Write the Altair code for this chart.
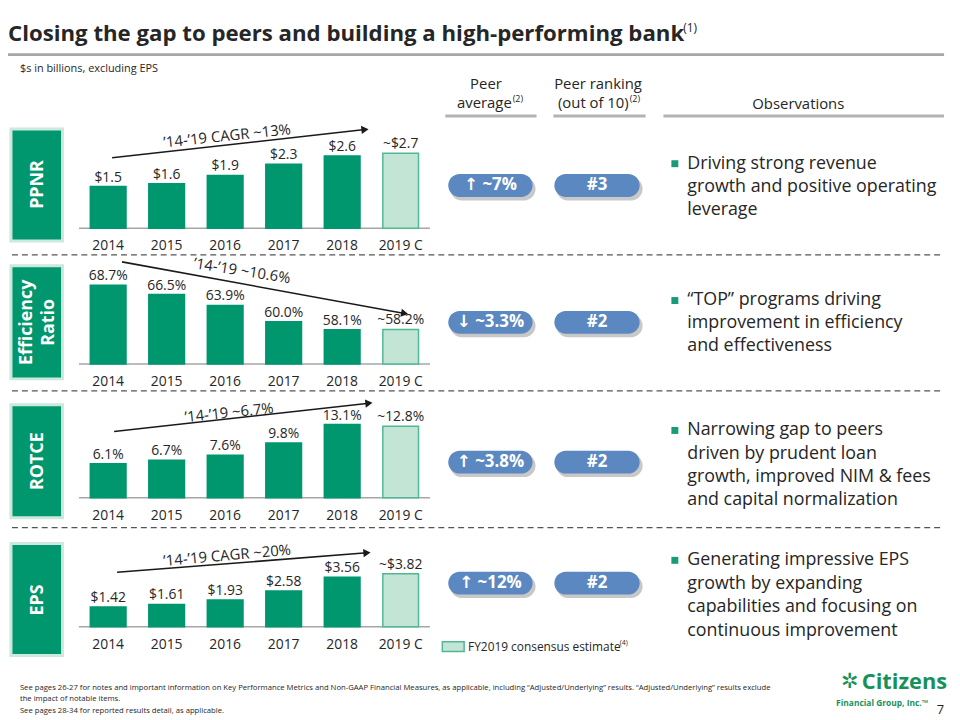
import altair as alt
import pandas as pd

# ---------------- data ----------------
years = ["2014", "2015", "2016", "2017", "2018", "2019 C"]
kinds = ["Actual", "Actual", "Actual", "Actual", "Actual", "Consensus"]

ppnr = [1.5, 1.6, 1.9, 2.3, 2.6, 2.7]
ppnr_labels = ["$1.5", "$1.6", "$1.9", "$2.3", "$2.6", "~$2.7"]
eff = [68.7, 66.5, 63.9, 60.0, 58.1, 58.2]
eff_labels = ["68.7%", "66.5%", "63.9%", "60.0%", "58.1%", "~58.2%"]
rotce = [6.1, 6.7, 7.6, 9.8, 13.1, 12.8]
rotce_labels = ["6.1%", "6.7%", "7.6%", "9.8%", "13.1%", "~12.8%"]
eps = [1.42, 1.61, 1.93, 2.58, 3.56, 3.82]
eps_labels = ["$1.42", "$1.61", "$1.93", "$2.58", "$3.56", "~$3.82"]

row_names = ["PPNR", "Efficiency Ratio", "ROTCE", "EPS"]
trend_texts = ["\u201914-\u201919 CAGR ~13%", "\u201914-\u201919 ~10.6%",
               "\u201914-\u201919 ~6.7%", "\u201914-\u201919 CAGR ~20%"]
peer_avg = ["\u2191 ~7%", "\u2193 ~3.3%", "\u2191 ~3.8%", "\u2191 ~12%"]
peer_rank = ["#3", "#2", "#2", "#2"]
observations = [
    ["Driving strong revenue", "growth and positive operating", "leverage"],
    ["\u201cTOP\u201d programs driving", "improvement in efficiency", "and effectiveness"],
    ["Narrowing gap to peers", "driven by prudent loan", "growth, improved NIM & fees",
     "and capital normalization"],
    ["Generating impressive EPS", "growth by expanding", "capabilities and focusing on",
     "continuous improvement"],
]
footnotes = [
    "See pages 26-27 for notes and important information on Key Performance Metrics and Non-GAAP Financial Measures, as applicable, including \u201cAdjusted/Underlying\u201d results. \u201cAdjusted/Underlying\u201d results exclude",
    "the impact of notable items.",
    "See pages 28-34 for reported results detail, as applicable.",
]

# ---------------- styles / layout ----------------
FONT = "Open Sans"
DARK = "#262626"
GREEN = "#00966e"
LIGHT = "#c3e5d6"
LIGHT_STROKE = "#52b893"
BLUE = "#5b88c1"
LOGO = "#17915b"

M = 8  # page margin
W, H = 952, 712


def PX(f="x"):
    return alt.X(f + ":Q", scale=alt.Scale(domain=[M, M + W], range=[0, W]), axis=None)


def PY(f="y"):
    return alt.Y(f + ":Q", scale=alt.Scale(domain=[M, M + H], range=[0, H]), axis=None)


def text_layer(items, weight="normal", align="left", baseline="middle", font=FONT):
    df = pd.DataFrame(items)
    if "angle" not in df:
        df["angle"] = 0
    if "color" not in df:
        df["color"] = DARK
    return alt.Chart(df).mark_text(
        font=font, fontWeight=weight, align=align, baseline=baseline
    ).encode(
        x=PX(), y=PY(), text="text:N",
        size=alt.Size("size:Q", scale=None),
        color=alt.Color("color:N", scale=None),
        angle=alt.Angle("angle:Q", scale=None),
    )


def rule_layer(items, color, width, dash=None):
    props = dict(color=color, strokeWidth=width)
    if dash:
        props["strokeDash"] = dash
    return alt.Chart(pd.DataFrame(items)).mark_rule(**props).encode(
        x=PX(), y=PY(), x2="x2:Q", y2="y2:Q")


def rect_layer(items, **props):
    return alt.Chart(pd.DataFrame(items)).mark_rect(**props).encode(
        x=PX(), y=PY(), x2="x2:Q", y2="y2:Q")


# row geometry (page pixels)
BAND = [79.5, 433.5]
rows_geo = [
    dict(vals=ppnr, labels=ppnr_labels, domain=[0, 4], base=0, baseline=227, per=28.0),
    dict(vals=eff, labels=eff_labels, domain=[50, 80], base=50, baseline=364, per=4.25),
    dict(vals=rotce, labels=rotce_labels, domain=[0, 20], base=0, baseline=499, per=5.65),
    dict(vals=eps, labels=eps_labels, domain=[0, 5], base=0, baseline=629, per=14.0),
]


def row_chart(g):
    df = pd.DataFrame({"year": years, "value": g["vals"], "label": g["labels"], "kind": kinds})
    b = g["baseline"] - M
    xs = alt.X("year:N", sort=years,
               scale=alt.Scale(domain=years, range=[BAND[0] - M, BAND[1] - M],
                               paddingInner=0.39, paddingOuter=0.195), axis=None)
    ys = alt.Y("value:Q", scale=alt.Scale(domain=g["domain"], zero=False, nice=False,
                                          range=[b, b - g["per"] * (g["domain"][1] - g["domain"][0])]),
               axis=None)
    base = alt.Chart(df)
    bars = base.mark_bar(strokeWidth=1.5).encode(
        x=xs, y=ys, y2=alt.datum(g["base"]),
        color=alt.Color("kind:N", scale=alt.Scale(domain=["Actual", "Consensus"], range=[GREEN, LIGHT]), legend=None),
        stroke=alt.Stroke("kind:N", scale=alt.Scale(domain=["Actual", "Consensus"], range=[GREEN, LIGHT_STROKE]), legend=None),
    )
    vlabels = base.mark_text(font=FONT, fontSize=14, color=DARK, baseline="alphabetic", dy=-5).encode(
        x=xs, y=ys, text="label:N")
    ylabels = base.mark_text(font=FONT, fontSize=14, color=DARK, baseline="middle").encode(
        x=xs, y=alt.value(b + 18), text="year:N")
    return alt.layer(bars, vlabels, ylabels)


# ---------------- decorations ----------------
layers_bg = []

# title rule, header underlines, dashed separators, bar baselines
layers_bg.append(rule_layer([dict(x=M, y=52, x2=952, y2=52)], "#a6a6a6", 3))
layers_bg.append(rule_layer([
    dict(x=449, y=114, x2=541, y2=114),
    dict(x=558, y=114, x2=651, y2=114),
    dict(x=669, y=114, x2=952, y2=114),
], "#b3b3b3", 3))
layers_bg.append(rule_layer([
    dict(x=12, y=254, x2=952, y2=254),
    dict(x=12, y=391, x2=952, y2=391),
    dict(x=12, y=529, x2=952, y2=529),
], "#555555", 1.3, dash=[6, 4]))
layers_bg.append(rule_layer(
    [dict(x=BAND[0], y=g["baseline"], x2=BAND[1], y2=g["baseline"]) for g in rows_geo],
    "#a6a6a6", 1.5))

# side boxes
box_y = [(127, 240), (265, 379), (405, 519), (545, 658)]
layers_bg.append(rect_layer([dict(x=11, x2=63, y=a, y2=b) for a, b in box_y],
                            color=GREEN, stroke="#cde8dc", strokeWidth=3))

# pills with shadow
pill_cy = [184, 322, 463, 585]
pill_x = [(452, 537), (559, 645)]
shadow = []
pills = []
for cy in pill_cy:
    for a, b in pill_x:
        shadow.append(dict(x=a + 2, x2=b + 3, y=cy - 11 + 3, y2=cy + 12 + 3))
        pills.append(dict(x=a, x2=b, y=cy - 11.5, y2=cy + 11.5))
layers_bg.append(rect_layer(shadow, color="#9a9a9a", opacity=0.55, cornerRadius=12))
layers_bg.append(rect_layer(pills, color=BLUE, cornerRadius=11.5))

# bullets
obs_y = [[162, 186, 209], [300, 323, 346], [431, 455, 478, 501], [562, 586, 609, 633]]
layers_bg.append(rect_layer([dict(x=677, x2=684, y=ys[0] - 3.5, y2=ys[0] + 3.5) for ys in obs_y],
                            color="#1a9b77"))

# legend swatch
layers_bg.append(rect_layer([dict(x=446, x2=468, y=644, y2=654)], color=LIGHT,
                            stroke=LIGHT_STROKE, strokeWidth=1.5))

# trend arrows
arrows = [
    dict(x=113, y=156, x2=368, y2=127.6, ang=353.6),
    dict(x=123, y=261, x2=408, y2=313, ang=10.4),
    dict(x=115, y=432, x2=372, y2=403.6, ang=353.7),
    dict(x=118, y=574, x2=370, y2=554.4, ang=355.5),
]
layers_bg.append(rule_layer([{k: a[k] for k in ("x", "y", "x2", "y2")} for a in arrows], "#1a1a1a", 1.6))
layers_bg.append(
    alt.Chart(pd.DataFrame([dict(x=a["x2"], y=a["y2"], ang=a["ang"]) for a in arrows]))
    .mark_point(shape="triangle-right", filled=True, color="#1a1a1a", size=70, opacity=1)
    .encode(x=PX(), y=PY(), angle=alt.Angle("ang:Q", scale=None))
)

# ---------------- texts ----------------
texts = []
# title & subtitle
texts.append(text_layer([dict(x=8, y=31, text="Closing the gap to peers and building a high-performing bank", size=22.4)],
                        weight="bold"))
texts.append(text_layer([dict(x=20, y=67, text="$s in billions, excluding EPS", size=11)]))

# headers
texts.append(text_layer([
    dict(x=490, y=82, text="Peer", size=15),
    dict(x=603, y=82, text="Peer ranking", size=15),
    dict(x=805, y=102, text="Observations", size=15),
], align="center"))
texts.append(text_layer([
    dict(x=516, y=101, text="average", size=15),
    dict(x=634, y=101, text="(out of 10)", size=15),
], align="right"))

# superscripts
texts.append(text_layer([
    dict(x=689, y=25, text="(1)", size=12),
    dict(x=517, y=97, text="(2)", size=9),
    dict(x=635, y=97, text="(2)", size=9),
    dict(x=625, y=645, text="(4)", size=7),
]))

# trend texts
trend_pos = [(229, 134, 354), (244, 270, 9), (231, 413, 354), (229, 557, 355)]
texts.append(text_layer([dict(x=p[0], y=p[1], angle=p[2], text=t, size=15)
                         for p, t in zip(trend_pos, trend_texts)], align="center"))

# side box labels
texts.append(text_layer([
    dict(x=38, y=183, text="PPNR", size=18, color="white", angle=270),
    dict(x=27, y=322, text="Efficiency", size=18, color="white", angle=270),
    dict(x=49, y=322, text="Ratio", size=18, color="white", angle=270),
    dict(x=38, y=462, text="ROTCE", size=18, color="white", angle=270),
    dict(x=38, y=602, text="EPS", size=18, color="white", angle=270),
], weight="bold", align="center"))

# pill texts
pill_items = []
for cy, a, r in zip(pill_cy, peer_avg, peer_rank):
    pill_items.append(dict(x=(pill_x[0][0] + pill_x[0][1]) / 2, y=cy, text=a, size=17, color="white"))
    pill_items.append(dict(x=(pill_x[1][0] + pill_x[1][1]) / 2, y=cy, text=r, size=17, color="white"))
texts.append(text_layer(pill_items, weight="bold", align="center", font="Open Sans, DejaVu Sans"))

# observations
obs_items = []
for lines, ys in zip(observations, obs_y):
    for line, y in zip(lines, ys):
        obs_items.append(dict(x=693, y=y, text=line, size=18))
texts.append(text_layer(obs_items))

# legend text
texts.append(text_layer([dict(x=472, y=649, text="FY2019 consensus estimate", size=12)]))

# footnotes
texts.append(text_layer([dict(x=20, y=y, text=t, size=7.75) for t, y in zip(footnotes, [691, 702, 714])]))

# logo & page number
texts.append(text_layer([dict(x=848, y=685, text="\u2732", size=21, color=LOGO)], font="DejaVu Sans"))
texts.append(text_layer([dict(x=869, y=685, text="Citizens", size=22, color=LOGO)], weight="bold"))
texts.append(text_layer([dict(x=936, y=706, text="Financial Group, Inc.\u2122", size=8.5, color=LOGO)],
                        weight="bold", align="right"))
texts.append(text_layer([dict(x=952, y=713, text="7", size=13)], align="right"))

bg = alt.layer(*layers_bg)
fg = alt.layer(*texts)
rows = [row_chart(g) for g in rows_geo]

chart = alt.layer(bg, *rows, fg).resolve_scale(
    x="independent", y="independent", color="independent", stroke="independent"
).properties(
    width=W, height=H, autosize=alt.AutoSizeParams(type="none"), padding=0, background="white"
).configure_view(stroke=None)

chart.save("out.html", embed_options={"renderer": "svg", "actions": False})
